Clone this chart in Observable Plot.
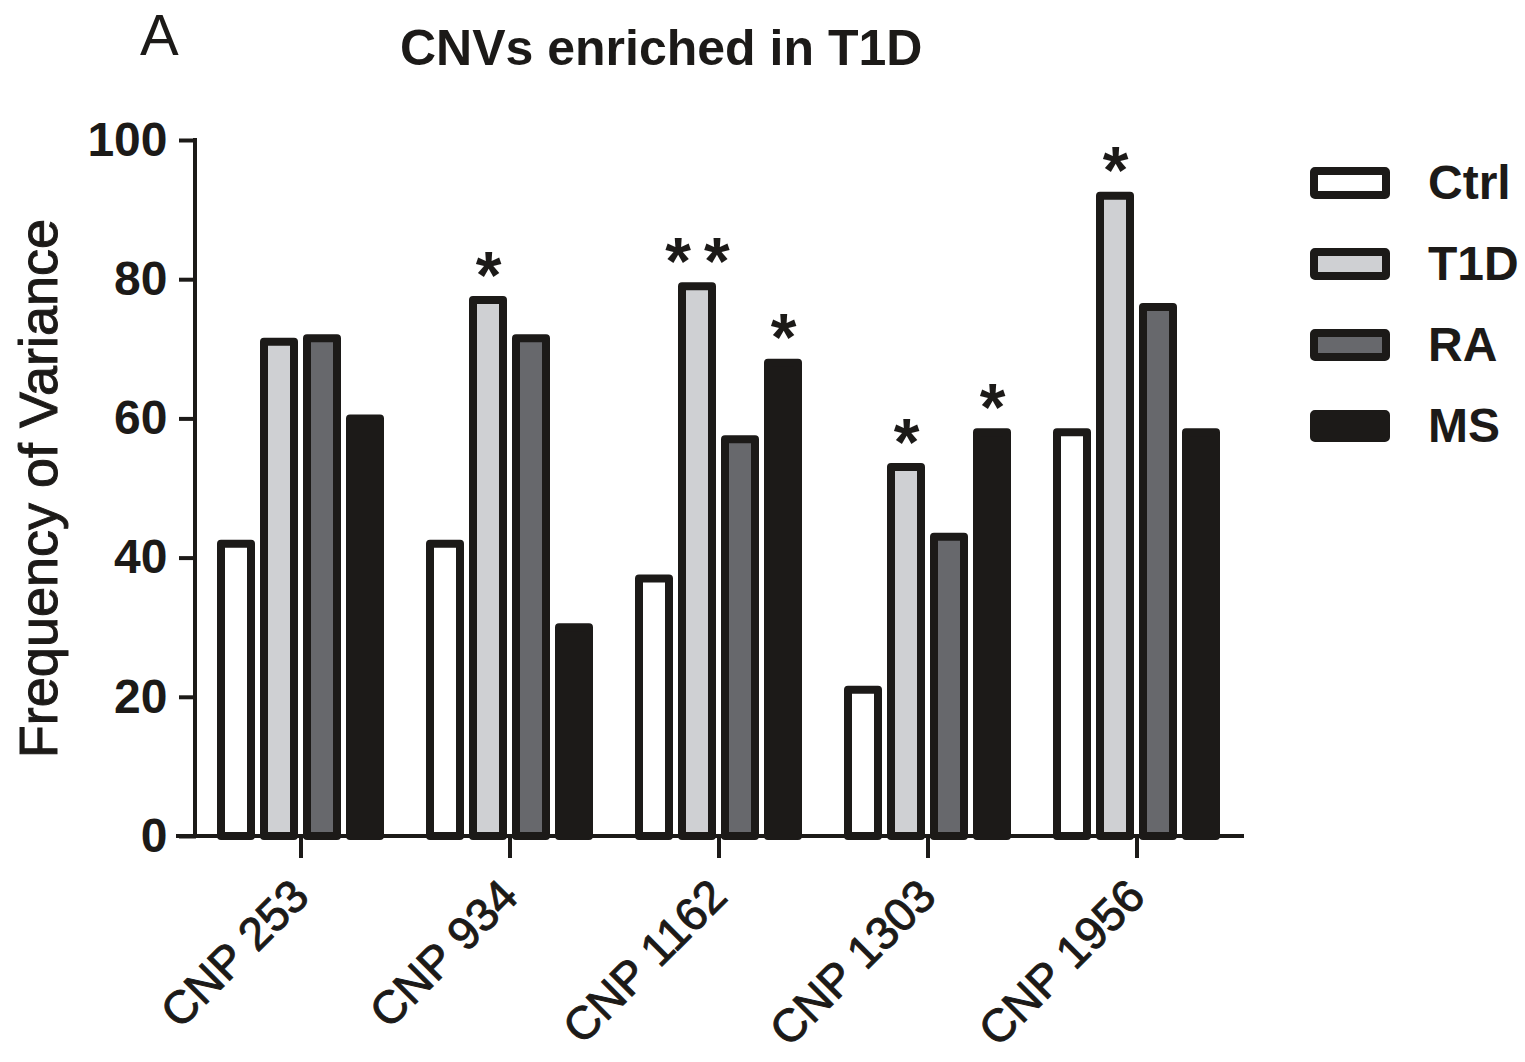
<!DOCTYPE html>
<html>
<head>
<meta charset="utf-8">
<script src="https://cdn.jsdelivr.net/npm/d3@7"></script>
<script src="https://cdn.jsdelivr.net/npm/@observablehq/plot@0.6"></script>
<style>
  html, body { margin: 0; padding: 0; background: #fff; }
  #wrap { position: relative; width: 1525px; height: 1062px; overflow: hidden;
          font-family: "Liberation Sans", Arial, sans-serif; color: #1c1a18; }
  #panel { position: absolute; left: 140px; top: 6px; font-size: 58px; line-height: 58px; font-weight: normal; }
  #title { position: absolute; left: 400px; top: 23px; font-size: 50px; line-height: 50px; font-weight: bold; }
  #chart { position: absolute; left: 0; top: 0; }
  #chart svg g[aria-label="fx-axis tick label"] text,
  #chart svg g[aria-label="y-axis label"] text { stroke: #1c1a18; stroke-width: 1px; }
  #legend { position: absolute; left: 1310px; top: 142px; }
  .row { display: flex; align-items: center; height: 81px; }
  .sw { box-sizing: border-box; width: 80px; height: 32px; border: 8px solid #1c1a18; border-radius: 5px; }
  .lab { margin-left: 38px; font-size: 48px; font-weight: bold; }
</style>
</head>
<body>
<div id="wrap">
  <div id="chart"></div>
  <div id="panel">A</div>
  <div id="title">CNVs enriched in T1D</div>
  <div id="legend"></div>
</div>
<script>
const categories = ["CNP 253", "CNP 934", "CNP 1162", "CNP 1303", "CNP 1956"];
const groups = ["Ctrl", "T1D", "RA", "MS"];
const ctrlValues = [42, 42, 37, 21, 58];
const t1dValues = [71, 77, 79, 53, 92];
const raValues = [71.5, 71.5, 57, 43, 76];
const msValues = [60, 30, 68, 58, 58];
const yTicks = [0, 20, 40, 60, 80, 100];
const sigCnp = ["CNP 934", "CNP 1162", "CNP 1162", "CNP 1303", "CNP 1303", "CNP 1956"];
const sigGroup = ["T1D", "T1D", "MS", "T1D", "MS", "T1D"];
const sigLabel = ["*", "*\u2009*", "*", "*", "*", "*"];
const fills = ["#ffffff", "#cfd0d3", "#67686c", "#1c1a18"];
const ink = "#1c1a18";

const seriesValues = [ctrlValues, t1dValues, raValues, msValues];
const rows = [];
categories.forEach((c, i) => groups.forEach((g, j) => rows.push({cnp: c, group: g, value: seriesValues[j][i]})));
const stars = sigCnp.map((c, k) => ({
  cnp: c, group: sigGroup[k], label: sigLabel[k],
  value: seriesValues[groups.indexOf(sigGroup[k])][categories.indexOf(c)]
}));

const chart = Plot.plot({
  width: 1525,
  height: 1062,
  marginLeft: 195,
  marginRight: 283,
  marginTop: 140,
  marginBottom: 226,
  style: {fontFamily: "'Liberation Sans', Arial, sans-serif", fontWeight: "bold", color: ink, background: "transparent", overflow: "visible"},
  fx: {domain: categories, padding: 0, label: null},
  x: {domain: groups, paddingInner: 0.3, paddingOuter: 0.53, axis: null},
  y: {domain: [0, 100], label: null},
  color: {domain: groups, range: fills},
  marks: [
    Plot.barY(rows, {fx: "cnp", x: "group", y: "value", fill: "group", stroke: ink, strokeWidth: 8, strokeLinejoin: "round"}),
    Plot.text(stars, {fx: "cnp", x: "group", y: "value", text: "label", fontSize: 66, fill: ink, lineAnchor: "middle", dy: -24}),
    Plot.axisY({ticks: yTicks, tickSize: 17, tickPadding: 12, fontSize: 48, strokeWidth: 4, label: null}),
    Plot.axisY({ticks: [], tickSize: 0, fontSize: 54, fontWeight: "normal",
                label: "Frequency of Variance", labelAnchor: "center", labelOffset: 178, labelArrow: "none"}),
    Plot.axisFx({anchor: "bottom", tickSize: 22, tickPadding: 30, tickRotate: -45, fontSize: 46, fontWeight: "normal", strokeWidth: 4, label: null})
  ]
});

// axis lines drawn from the plot's own scales
const sy = chart.scale("y");
const sfx = chart.scale("fx");
const g = d3.select(chart).append("g").attr("stroke", ink).attr("stroke-width", 4).attr("stroke-linecap", "square");
const y0 = sy.apply(0), y100 = sy.apply(100);
const xl = sfx.range[0], xr = sfx.range[1];
g.append("line").attr("x1", xl).attr("x2", xl).attr("y1", y100).attr("y2", y0);
g.append("line").attr("x1", xl - 17).attr("x2", xr).attr("y1", y0).attr("y2", y0);

document.getElementById("chart").appendChild(chart);

const legend = d3.select("#legend");
groups.forEach((gname, j) => {
  const r = legend.append("div").attr("class", "row");
  r.append("div").attr("class", "sw").style("background", fills[j]);
  r.append("div").attr("class", "lab").text(gname);
});
</script>
</body>
</html>
